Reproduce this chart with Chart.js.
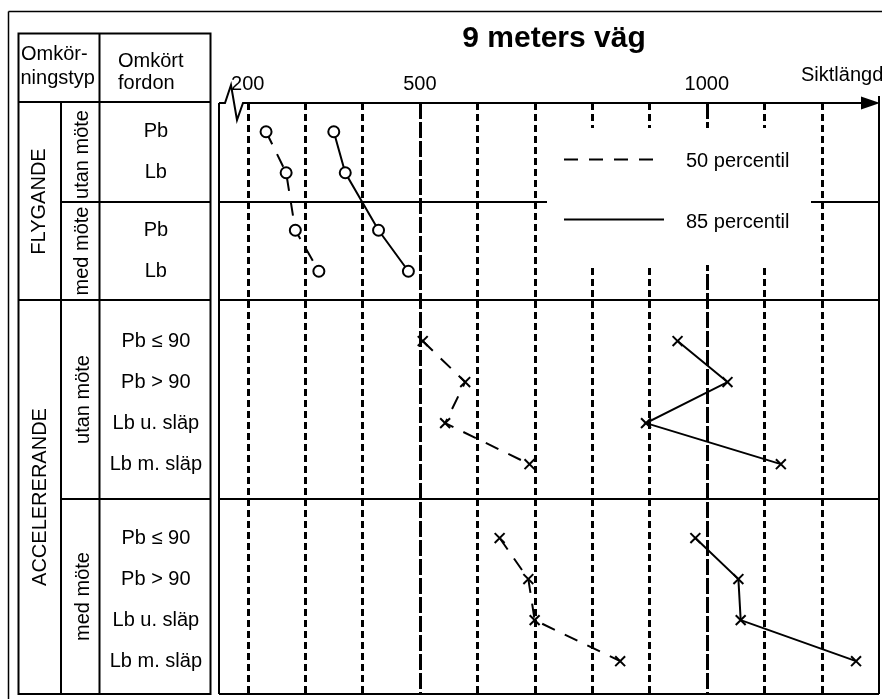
<!DOCTYPE html>
<html>
<head>
<meta charset="utf-8">
<title>9 meters väg</title>
<script src="https://cdn.jsdelivr.net/npm/chart.js@4.4.1/dist/chart.umd.min.js"></script>
<style>
    html, body { margin: 0; padding: 0; background: #fff; }
    canvas { display: block; }
</style>
</head>
<body>
<canvas id="chart" width="882" height="699"></canvas>
<script>
// Siktlängd (m)
const xTicks = [200, 500, 1000];
const gridValues = [200, 300, 400, 500, 600, 700, 800, 900, 1000, 1100, 1200];
const rowLabels = ['Pb', 'Lb', 'Pb', 'Lb',
    'Pb ≤ 90', 'Pb > 90', 'Lb u. släp', 'Lb m. släp',
    'Pb ≤ 90', 'Pb > 90', 'Lb u. släp', 'Lb m. släp'];
const groupLabels = ['FLYGANDE', 'ACCELERERANDE'];
const subLabels = ['utan möte', 'med möte', 'utan möte', 'med möte'];
const legendLabels = ['50 percentil', '85 percentil'];

const flygandeP50 = [232, 267, 283, 324];
const flygandeP85 = [350, 370, 428, 480];
const accUtanP50 = [505, 579, 544, 691];
const accUtanP85 = [949, 1036, 894, 1129];
const accMedP50 = [639, 689, 700, 849];
const accMedP85 = [980, 1055, 1059, 1260];

// table rows on the y scale (1 unit = one row of the table)
const rowPos = [0.7, 1.7, 3.1, 4.1, 5.8, 6.8, 7.8, 8.8, 10.6, 11.6, 12.6, 13.6];
const blockEdges = [0, 2.4, 4.8, 9.65, 14.4];

const FONT = '"Liberation Sans", Arial, sans-serif';
const DASH50 = [14, 11];

function series(values, firstRow, dashed, marker) {
    return {
        data: values.map((v, i) => ({ x: v, y: rowPos[firstRow + i] })),
        showLine: true,
        borderColor: '#000',
        borderWidth: 2,
        borderDash: dashed ? DASH50 : [],
        tension: 0,
        pointStyle: marker,
        pointRadius: marker === 'circle' ? 5.5 : 7,
        pointBorderWidth: 2,
        pointBorderColor: '#000',
        pointBackgroundColor: '#fff'
    };
}

function line(ctx, x1, y1, x2, y2) {
    ctx.beginPath();
    ctx.moveTo(x1, y1);
    ctx.lineTo(x2, y2);
    ctx.stroke();
}

const figurePlugin = {
    id: 'figure',
    beforeDatasetsDraw(chart) {
        const { ctx, chartArea: a, scales: { x, y } } = chart;
        ctx.save();
        ctx.strokeStyle = '#000';
        ctx.fillStyle = '#000';

        // vertical grid
        ctx.lineWidth = 3;
        gridValues.forEach(v => {
            const px = Math.round(x.getPixelForValue(v)) + 0.5;
            ctx.setLineDash(v === 500 || v === 1000 ? [16, 3] : [7, 4]);
            line(ctx, px, a.top, px, a.bottom);
        });
        ctx.setLineDash([]);

        // row block separators
        ctx.lineWidth = 2;
        blockEdges.slice(1, 4).forEach(b => {
            const py = Math.round(y.getPixelForValue(b));
            line(ctx, a.left, py, a.right, py);
        });

        // plot frame
        line(ctx, a.left, a.top, a.left, a.bottom);
        line(ctx, a.right, a.top - 7, a.right, a.bottom);
        line(ctx, a.left, a.bottom, a.right, a.bottom);

        // axis with break mark and arrow
        ctx.beginPath();
        ctx.moveTo(a.left, a.top);
        ctx.lineTo(a.left + 6, a.top);
        ctx.lineTo(a.left + 12, a.top - 18);
        ctx.lineTo(a.left + 18, a.top + 17);
        ctx.lineTo(a.left + 24, a.top);
        ctx.lineTo(a.right - 16, a.top);
        ctx.stroke();
        ctx.beginPath();
        ctx.moveTo(a.right + 1, a.top);
        ctx.lineTo(a.right - 18, a.top - 6.5);
        ctx.lineTo(a.right - 18, a.top + 6.5);
        ctx.closePath();
        ctx.fill();

        // legend
        ctx.fillStyle = '#fff';
        ctx.fillRect(547, 128, 264, 137);
        ctx.fillStyle = '#000';
        ctx.font = '20px ' + FONT;
        ctx.textAlign = 'left';
        ctx.textBaseline = 'alphabetic';
        [[DASH50, 159.5, 167], [[], 219.5, 228]].forEach(([dash, ly, by], i) => {
            ctx.setLineDash(dash);
            line(ctx, 564, ly, 664, ly);
            ctx.setLineDash([]);
            ctx.fillText(legendLabels[i], 686, by);
        });
        ctx.restore();
    },
    afterDraw(chart) {
        const { ctx, scales: { y } } = chart;
        const yb = blockEdges.map(b => Math.round(y.getPixelForValue(b)));
        const L = 18.5, C1 = 61, C2 = 99.5, R = 210.5, T = 33.5, H = 102;
        ctx.save();
        ctx.strokeStyle = '#000';
        ctx.fillStyle = '#000';

        // outer frame
        ctx.lineWidth = 1.5;
        line(ctx, 8.5, 11.5, 882, 11.5);
        line(ctx, 8.5, 11.5, 8.5, 699);

        // table grid
        ctx.lineWidth = 2;
        ctx.strokeRect(L, T, R - L, yb[4] - T);
        line(ctx, C2, T, C2, yb[4]);
        line(ctx, C1, H, C1, yb[4]);
        line(ctx, L, H, R, H);
        line(ctx, C1, yb[1], R, yb[1]);
        line(ctx, L, yb[2], R, yb[2]);
        line(ctx, C1, yb[3], R, yb[3]);

        // header
        ctx.font = '20px ' + FONT;
        ctx.textAlign = 'left';
        ctx.textBaseline = 'alphabetic';
        ctx.fillText('Omkör-', 21, 60);
        ctx.fillText('ningstyp', 20.5, 83.5);
        ctx.fillText('Omkört', 118, 66.5);
        ctx.fillText('fordon', 118, 88.5);

        // rotated group labels
        const vtext = (txt, bx, cy) => {
            ctx.save();
            ctx.translate(bx, cy);
            ctx.rotate(-Math.PI / 2);
            ctx.textAlign = 'center';
            ctx.fillText(txt, 0, 0);
            ctx.restore();
        };
        vtext(groupLabels[0], 44.5, (yb[0] + yb[2]) / 2);
        vtext(groupLabels[1], 45.5, (yb[2] + yb[4]) / 2);
        vtext(subLabels[0], 88, (yb[0] + yb[1]) / 2 + 2);
        vtext(subLabels[1], 88, (yb[1] + yb[2]) / 2);
        vtext(subLabels[2], 89, (yb[2] + yb[3]) / 2);
        vtext(subLabels[3], 89, (yb[3] + yb[4]) / 2);

        // title and axis name
        ctx.font = 'bold 30px ' + FONT;
        ctx.textAlign = 'center';
        ctx.fillText('9 meters väg', 554, 46.5);
        ctx.font = '20px ' + FONT;
        ctx.textAlign = 'left';
        ctx.fillText('Siktlängd', 801, 80.5);
        ctx.restore();
    }
};

new Chart(document.getElementById('chart'), {
    type: 'scatter',
    data: {
        datasets: [
            series(flygandeP50, 0, true, 'circle'),
            series(flygandeP85, 0, false, 'circle'),
            series(accUtanP50, 4, true, 'crossRot'),
            series(accUtanP85, 4, false, 'crossRot'),
            series(accMedP50, 8, true, 'crossRot'),
            series(accMedP85, 8, false, 'crossRot')
        ]
    },
    options: {
        responsive: false,
        animation: false,
        devicePixelRatio: 1,
        layout: { autoPadding: false, padding: { left: 0, top: 0, right: 3, bottom: 5 } },
        plugins: {
            legend: { display: false },
            tooltip: { enabled: false }
        },
        scales: {
            x: {
                type: 'linear',
                position: 'top',
                min: 150,
                max: 1300,
                bounds: 'data',
                grid: { display: false, drawTicks: false },
                border: { display: false },
                afterBuildTicks: s => { s.ticks = xTicks.map(v => ({ value: v })); },
                afterFit: s => {
                    s.height = 103;
                    s.paddingLeft = 0;
                    s.paddingRight = 0;
                },
                ticks: {
                    color: '#000',
                    padding: 7,
                    maxRotation: 0,
                    autoSkip: false,
                    font: { family: FONT, size: 20 },
                    callback: v => String(v)
                }
            },
            y: {
                type: 'linear',
                reverse: true,
                min: blockEdges[0],
                max: blockEdges[4],
                grid: { display: false, drawTicks: false },
                border: { display: false },
                afterBuildTicks: s => { s.ticks = rowPos.map(v => ({ value: v })); },
                afterFit: s => {
                    s.width = 219;
                    s.paddingTop = 0;
                    s.paddingBottom = 0;
                },
                ticks: {
                    color: '#000',
                    padding: 17,
                    crossAlign: 'center',
                    autoSkip: false,
                    font: { family: FONT, size: 20 },
                    callback: (v, i) => rowLabels[i]
                }
            }
        }
    },
    plugins: [figurePlugin]
});
</script>
</body>
</html>
